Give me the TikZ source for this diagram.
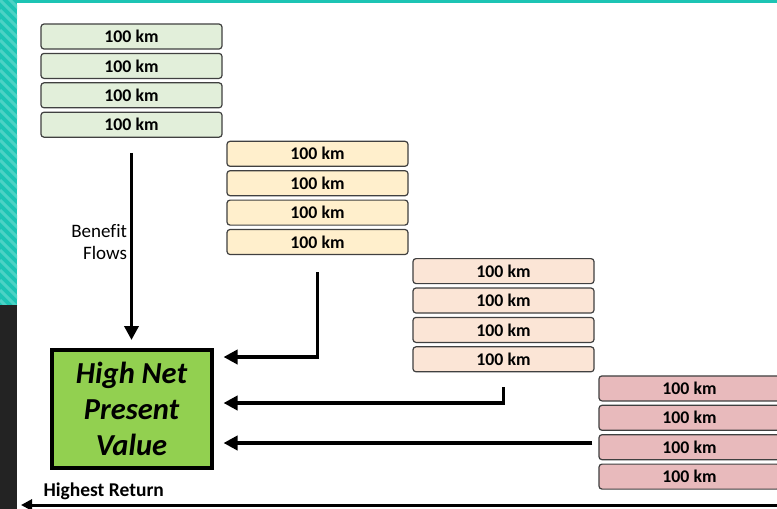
\documentclass[tikz,border=0pt]{standalone}
\usepackage{fontspec}
\setmainfont{Carlito}[Ligatures=NoCommon]
\usetikzlibrary{arrows.meta}
\definecolor{tealA}{HTML}{1DC4B4}
\definecolor{tealB}{HTML}{4CD2C5}
\definecolor{darkA}{HTML}{232323}
\definecolor{segG}{HTML}{E2EFDA}
\definecolor{segY}{HTML}{FFEFCC}
\definecolor{segP}{HTML}{FBE5D6}
\definecolor{segR}{HTML}{E8BABC}
\definecolor{npvG}{HTML}{92D050}

\begin{document}
\begin{tikzpicture}[x=1pt, y=-1pt,
    seg/.style={draw=black!75, line width=1.2pt, rounded corners=3pt,
        minimum width=181pt, minimum height=25pt, inner sep=0pt,
        font=\fontsize{17.8}{20}\selectfont\bfseries},
    flow/.style={line width=3.6pt, -{Triangle[length=14pt,width=14pt]}},
    lbl/.style={font=\fontsize{19}{22}\selectfont},
    boldlbl/.style={font=\fontsize{19.5}{22}\selectfont\bfseries},
]
\useasboundingbox (0,0) rectangle (777,509);
\def\dx{186}
\def\dy{117.3}
\def\dj{29.4}

% Frame: hatched teal strip, dark strip, top rule
\fill[white] (0,0) rectangle (777,509);
\fill[tealA] (0,0) rectangle (17,305);
\begin{scope}
    \clip (0,0) rectangle (17,305);
    \foreach \s in {-30,-20,...,310}
        \draw[tealB, line width=3pt] (0,\s) -- (20,\s+20);
\end{scope}
\fill[darkA] (0,305) rectangle (17,509);
\fill[tealA] (17,0) rectangle (777,2.5);

% Four stacks of 100 km segments, stepping down to the right
\foreach \c/\col in {0/segG,1/segY,2/segP,3/segR} {
    \foreach \j in {1,...,4} {
        \node[seg, fill=\col] (seg\c-\j)
            at ({131.5+\c*\dx}, {36.5+\c*\dy+(\j-1)*\dj}) {100 km};
    }
}

% Result box
\node[draw=black, line width=4pt, fill=npvG, minimum width=160pt,
    minimum height=118pt, align=center,
    font=\fontsize{30.5}{36}\selectfont\bfseries\itshape]
    (npv) at (131.5,409) {High Net\\Present\\Value};

% Benefit flows into the box
\draw[flow, shorten <=15pt, shorten >=8pt] (seg0-4.south) -- (npv.north);
\node[lbl, align=right, anchor=east] (bf) at (130.5,242) {Benefit\\Flows};

\draw[flow, shorten <=17pt, shorten >=10pt]
    (seg1-4.south) |- (npv.east |- 0,357);
\draw[flow, shorten <=15pt, shorten >=10pt]
    (seg2-4.south) |- (npv.east |- 0,403);
\draw[flow, shorten <=6pt, shorten >=10pt]
    (seg3-3.west |- 0,443) -- (npv.east |- 0,443);

% Bottom return arrow
\coordinate (retR) at (780,505);
\coordinate (retL) at (21,505);
\draw[line width=3pt, -{Triangle[length=11pt,width=11pt]}] (retR) -- (retL);
\node[boldlbl, anchor=west] (ret) at (40,491) {Highest Return};

\end{tikzpicture}
\end{document}
